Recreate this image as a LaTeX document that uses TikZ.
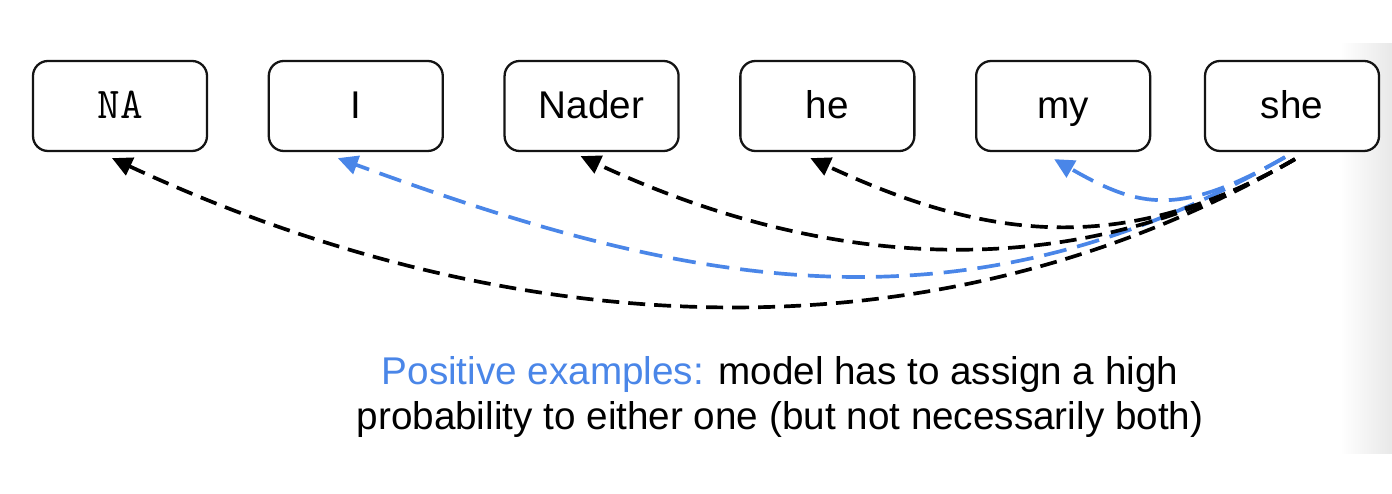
\documentclass[tikz,border=0pt]{standalone}
\usepackage{fontspec}
\setmainfont{Liberation Sans}
\usetikzlibrary{arrows.meta,positioning}
\definecolor{posblue}{RGB}{74,134,232}
\definecolor{linegray}{RGB}{20,20,20}
\tikzset{
  tokbox/.style={
    draw=linegray, line width=1.3pt, rounded corners=0.3cm,
    fill=white, align=center,
    minimum width=3.48cm, minimum height=1.8cm,
    text height=16pt, text depth=1.8pt,
    font=\fontsize{22}{26}\selectfont
  },
  negarrow/.style={
    draw=black, line width=2.1pt, dash pattern=on 0.34cm off 0.18cm,
    -{Triangle[length=0.4cm,width=0.38cm]}
  },
  posarrow/.style={
    draw=posblue, line width=2.1pt, dash pattern=on 0.46cm off 0.22cm,
    -{Triangle[length=0.4cm,width=0.38cm]}
  }
}

\begin{document}
\begin{tikzpicture}

\useasboundingbox (0,0) rectangle (27.84,9.88);
\fill[white] (0,0) rectangle (27.84,9.88);
% faint slide edge on the right
\shade[left color=white, right color=black!9] (26.8,0.8) rectangle (27.84,9.0);

%--------------------------------------------------
% Token boxes
%--------------------------------------------------
\node[tokbox] (na) at (2.40,7.76) {\ttfamily\fontsize{25}{28}\selectfont NA};
\node[tokbox, right=1.19cm of na] (i) {I};
\node[tokbox, right=1.19cm of i] (nader) {Nader};
\node[tokbox, right=1.19cm of nader] (he) {he};
\node[tokbox, right=1.19cm of he] (my) {my};
\node[tokbox] (she) at (25.84,7.76) {she};

\coordinate (srcneg) at ([xshift=0.06cm,yshift=-0.14cm]she.south);
\coordinate (srcpos) at ([xshift=-0.14cm,yshift=-0.10cm]she.south);

%--------------------------------------------------
% Arcs from "she" to the candidates
%--------------------------------------------------
\draw[negarrow] (srcneg) .. controls +(-7.66,-4.42) and +(7.40,-3.44) .. ([xshift=-0.16cm,yshift=-0.12cm]na.south);
\draw[posarrow] (srcpos) .. controls +(-6.66,-3.84) and +(6.64,-2.42) .. ([xshift=-0.36cm,yshift=-0.12cm]i.south);
\draw[negarrow] (srcneg) .. controls +(-4.74,-2.74) and +(4.50,-2.10) .. ([xshift=-0.22cm,yshift=-0.08cm]nader.south);
\draw[negarrow] (srcneg) .. controls +(-3.56,-2.06) and +(3.32,-1.54) .. ([xshift=-0.34cm,yshift=-0.12cm]he.south);
\draw[posarrow] (srcpos) .. controls +(-2.10,-1.20) and +(1.70,-0.98) .. ([xshift=-0.18cm,yshift=-0.14cm]my.south);

%--------------------------------------------------
% Caption
%--------------------------------------------------
\node[align=center, font=\fontsize{22}{26}\selectfont] (caption) at (15.60,1.94)
{\textcolor{posblue}{Positive examples:} model has to assign a high\\
probability to either one (but not necessarily both)};

\end{tikzpicture}
\end{document}
